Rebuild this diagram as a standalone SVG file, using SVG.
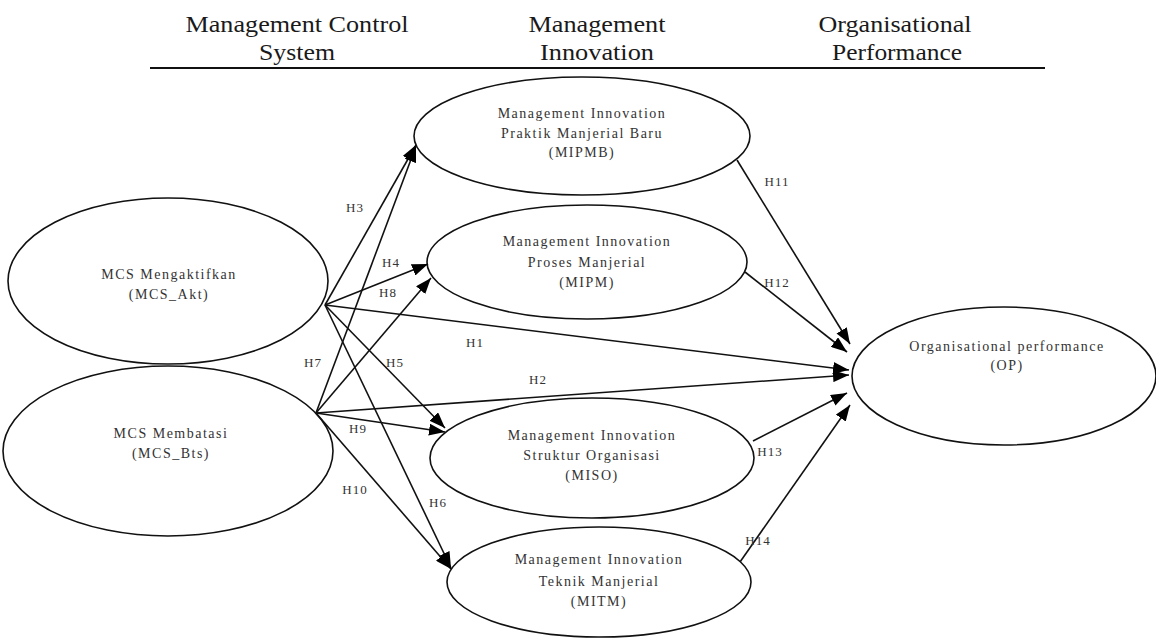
<svg xmlns="http://www.w3.org/2000/svg" width="1156" height="640" viewBox="0 0 1156 640">
<style>
.hdr{font-family:"Liberation Serif","Times New Roman",serif;font-size:24px;fill:#1a1a1a;text-anchor:middle}
.nt{font-family:"Liberation Serif","Times New Roman",serif;font-size:14px;letter-spacing:1.5px;fill:#333;text-anchor:middle}
.lb{font-family:"Liberation Serif","Times New Roman",serif;font-size:13px;letter-spacing:1px;fill:#333;text-anchor:middle}
.el{fill:#fff;stroke:#111;stroke-width:1.6}
.cn{stroke:#111;stroke-width:1.6;fill:none;marker-end:url(#ah)}
</style>
<defs>
<marker id="ah" markerUnits="userSpaceOnUse" markerWidth="16" markerHeight="12" refX="16" refY="6" orient="auto">
<path d="M0,0 L16,6 L0,12 z" fill="#000"/>
</marker>
</defs>
<rect width="1156" height="640" fill="#fff"/>
<g id="header">
<text class="hdr" x="297" y="32" textLength="223" lengthAdjust="spacingAndGlyphs">Management Control</text>
<text class="hdr" x="297" y="60" textLength="76" lengthAdjust="spacingAndGlyphs">System</text>
<text class="hdr" x="597" y="32" textLength="137" lengthAdjust="spacingAndGlyphs">Management</text>
<text class="hdr" x="597" y="60" textLength="114" lengthAdjust="spacingAndGlyphs">Innovation</text>
<text class="hdr" x="895" y="32" textLength="153" lengthAdjust="spacingAndGlyphs">Organisational</text>
<text class="hdr" x="897" y="60" textLength="130" lengthAdjust="spacingAndGlyphs">Performance</text>
<line x1="150" y1="68" x2="1045" y2="68" stroke="#111" stroke-width="2"/>
</g>
<g id="MCS_Akt">
<ellipse class="el" cx="168" cy="281" rx="160" ry="83"/>
<text class="nt" x="169" y="279">MCS Mengaktifkan</text>
<text class="nt" x="169" y="299">(MCS_Akt)</text>
</g>
<g id="MCS_Bts">
<ellipse class="el" cx="168" cy="451" rx="165" ry="85"/>
<text class="nt" x="171" y="438">MCS Membatasi</text>
<text class="nt" x="171" y="458">(MCS_Bts)</text>
</g>
<g id="MIPMB">
<ellipse class="el" cx="582" cy="136" rx="168" ry="59"/>
<text class="nt" x="582" y="118">Management Innovation</text>
<text class="nt" x="582" y="138">Praktik Manjerial Baru</text>
<text class="nt" x="582" y="157">(MIPMB)</text>
</g>
<g id="MIPM">
<ellipse class="el" cx="587" cy="262" rx="160" ry="57"/>
<text class="nt" x="587" y="246">Management Innovation</text>
<text class="nt" x="587" y="267">Proses Manjerial</text>
<text class="nt" x="587" y="287">(MIPM)</text>
</g>
<g id="MISO">
<ellipse class="el" cx="592" cy="458" rx="162" ry="60"/>
<text class="nt" x="592" y="440">Management Innovation</text>
<text class="nt" x="592" y="460">Struktur Organisasi</text>
<text class="nt" x="592" y="480">(MISO)</text>
</g>
<g id="MITM">
<ellipse class="el" cx="599" cy="582" rx="152" ry="55"/>
<text class="nt" x="599" y="564">Management Innovation</text>
<text class="nt" x="599" y="586">Teknik Manjerial</text>
<text class="nt" x="599" y="606">(MITM)</text>
</g>
<g id="OP">
<ellipse class="el" cx="1004" cy="376" rx="152" ry="69"/>
<text class="nt" x="1007" y="351">Organisational performance</text>
<text class="nt" x="1007" y="370">(OP)</text>
</g>
<g id="connectors">
<line class="cn" x1="325" y1="305" x2="416" y2="145"/>
<line class="cn" x1="316" y1="413" x2="416" y2="146"/>
<line class="cn" x1="325" y1="305" x2="428" y2="264"/>
<line class="cn" x1="316" y1="413" x2="431" y2="278"/>
<line class="cn" x1="325" y1="305" x2="849" y2="370"/>
<line class="cn" x1="316" y1="413" x2="849" y2="375"/>
<line class="cn" x1="325" y1="305" x2="445" y2="428"/>
<line class="cn" x1="316" y1="413" x2="445" y2="432"/>
<line class="cn" x1="325" y1="305" x2="451" y2="568"/>
<line class="cn" x1="316" y1="413" x2="451" y2="569"/>
<line class="cn" x1="737" y1="160" x2="850" y2="344"/>
<line class="cn" x1="745" y1="272" x2="847" y2="352"/>
<line class="cn" x1="753" y1="441" x2="847" y2="393"/>
<line class="cn" x1="740" y1="562" x2="850" y2="405"/>
</g>
<g id="labels">
<text class="lb" x="355" y="212">H3</text>
<text class="lb" x="391" y="267">H4</text>
<text class="lb" x="388" y="297">H8</text>
<text class="lb" x="475" y="347">H1</text>
<text class="lb" x="313" y="367">H7</text>
<text class="lb" x="395" y="367">H5</text>
<text class="lb" x="538" y="384">H2</text>
<text class="lb" x="358" y="433">H9</text>
<text class="lb" x="355" y="494">H10</text>
<text class="lb" x="438" y="507">H6</text>
<text class="lb" x="777" y="186">H11</text>
<text class="lb" x="777" y="287">H12</text>
<text class="lb" x="770" y="456">H13</text>
<text class="lb" x="758" y="545">H14</text>
</g>
</svg>
